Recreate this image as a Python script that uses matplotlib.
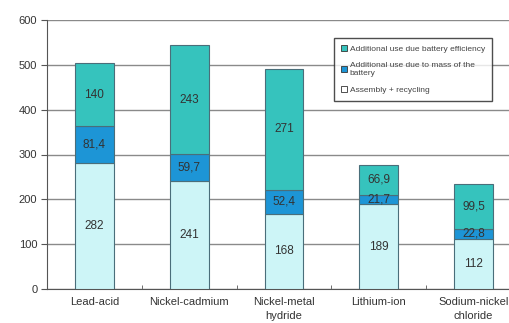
import numpy as np
import matplotlib
matplotlib.use('Agg')
import matplotlib.pyplot as plt
from matplotlib.patches import Patch

plt.rcParams['font.family'] = ['Liberation Sans', 'DejaVu Sans']

# data
batteries = ['Lead-acid', 'Nickel-cadmium', 'Nickel-metal\nhydride', 'Lithium-ion', 'Sodium-nickel\nchloride']
assembly = [282, 241, 168, 189, 112]          # Assembly + recycling
mass_use = [81.4, 59.7, 52.4, 21.7, 22.8]     # Additional use due to mass of the battery
eff_use = [140, 243, 271, 66.9, 99.5]         # Additional use due battery efficiency
yticks = [0, 100, 200, 300, 400, 500, 600]

c_assembly = '#cdf5f7'
c_mass = '#1d95d6'
c_eff = '#36c3bd'
edge = '#4a6e7a'
txt = '#333333'

fig = plt.figure(figsize=(5.09, 3.23), dpi=100)
ax = fig.add_axes([47/509, 34/323, 474/509, 269/323])

x = np.arange(len(batteries))
w = 0.41
assembly = np.array(assembly)
mass_use = np.array(mass_use)
eff_use = np.array(eff_use)

ax.bar(x, assembly, w, color=c_assembly, edgecolor=edge, linewidth=0.8, zorder=3)
ax.bar(x, mass_use, w, bottom=assembly, color=c_mass, edgecolor=edge, linewidth=0.8, zorder=3)
ax.bar(x, eff_use, w, bottom=assembly + mass_use, color=c_eff, edgecolor=edge, linewidth=0.8, zorder=3)

def fmt(v):
    s = ('%g' % v)
    return s.replace('.', ',')

for i in range(len(x)):
    ax.text(x[i], assembly[i] / 2, fmt(assembly[i]), ha='center', va='center', fontsize=8.5, color=txt, zorder=4)
    ax.text(x[i], assembly[i] + mass_use[i] / 2, fmt(mass_use[i]), ha='center', va='center', fontsize=8.5, color=txt, zorder=4)
    ax.text(x[i], assembly[i] + mass_use[i] + eff_use[i] / 2, fmt(eff_use[i]), ha='center', va='center', fontsize=8.5, color=txt, zorder=4)

ax.set_xlim(-0.5, len(x) - 0.5)
ax.set_ylim(0, 600)
ax.set_yticks(yticks)
ax.set_yticklabels([str(t) for t in yticks], fontsize=8, color=txt)
ax.yaxis.grid(True, color='#8a8a8a', linewidth=1.0, zorder=0)
ax.set_axisbelow(True)

ax.set_xticks(x)
ax.set_xticklabels(batteries, fontsize=8, color=txt, linespacing=1.45)
ax.tick_params(axis='x', length=0, pad=6)
ax.set_xticks(np.arange(len(x) - 1) + 0.5, minor=True)
ax.tick_params(axis='x', which='minor', length=3, direction='in', color='#555555')
ax.tick_params(axis='y', length=4, color='#555555', pad=3)

for s in ['top', 'right']:
    ax.spines[s].set_visible(False)
ax.spines['left'].set_color('#555555')
ax.spines['bottom'].set_color('#555555')

handles = [Patch(facecolor=c_eff, edgecolor='#333333', linewidth=0.6),
           Patch(facecolor=c_mass, edgecolor='#333333', linewidth=0.6),
           Patch(facecolor='white', edgecolor='#333333', linewidth=0.6)]
labels = ['Additional use due battery efficiency',
          'Additional use due to mass of the\nbattery',
          'Assembly + recycling']
leg = fig.legend(handles, labels, loc='upper left', bbox_to_anchor=(334/509, 1 - 38/323),
                 borderaxespad=0, fontsize=6, frameon=True, fancybox=False, edgecolor='#222222',
                 handlelength=0.8, handleheight=0.8, handletextpad=0.3,
                 borderpad=0.8, labelspacing=1.1)
leg.get_frame().set_linewidth(1.0)
for t in leg.get_texts():
    t.set_color('#444444')

fig.savefig('out.png', dpi=100)
